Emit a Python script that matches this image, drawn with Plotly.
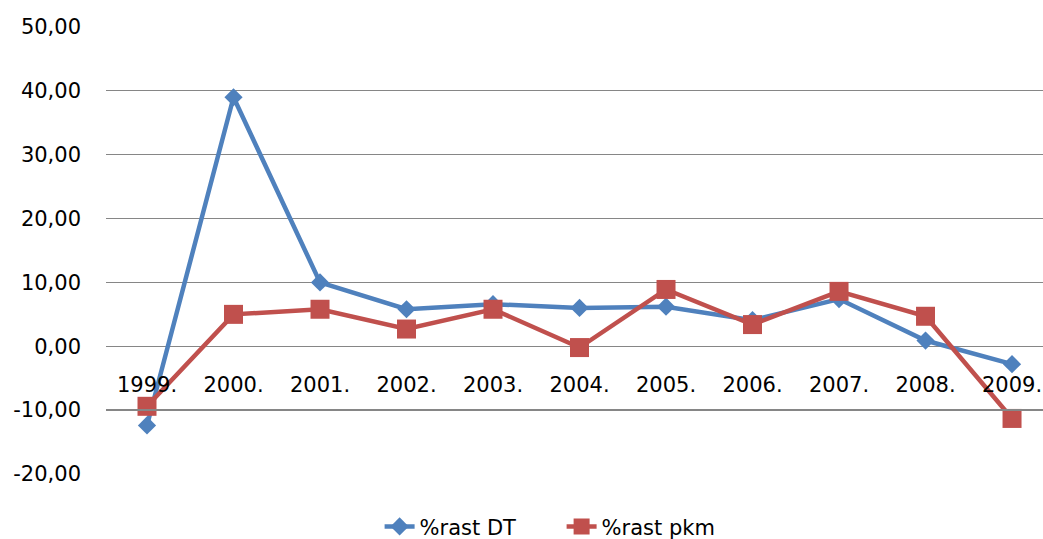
import plotly.graph_objects as go

years = ["1999.", "2000.", "2001.", "2002.", "2003.", "2004.", "2005.", "2006.", "2007.", "2008.", "2009."]
rast_dt = [-12.4, 39.0, 10.0, 5.8, 6.6, 6.0, 6.2, 4.1, 7.4, 0.9, -2.8]
rast_pkm = [-9.4, 5.0, 5.8, 2.7, 5.8, -0.2, 8.9, 3.4, 8.6, 4.7, -11.3]
y_ticks = [-20, -10, 0, 10, 20, 30, 40, 50]
y_tick_text = ["-20,00", "-10,00", "0,00", "10,00", "20,00", "30,00", "40,00", "50,00"]
grid_vals = [0, 10, 20, 30, 40]

BLUE = "#4F81BD"
RED = "#C0504D"
FONT = "DejaVu Sans"

x_idx = list(range(len(years)))

fig = go.Figure()
fig.add_trace(go.Scatter(
    x=x_idx, y=rast_dt, name="%rast DT", mode="lines+markers",
    line=dict(color=BLUE, width=4.5),
    marker=dict(symbol="diamond", size=14, color=BLUE),
))
fig.add_trace(go.Scatter(
    x=x_idx, y=rast_pkm, name="%rast pkm", mode="lines+markers",
    line=dict(color=RED, width=4.5),
    marker=dict(symbol="square", size=19, color=RED),
))
# invisible trace to activate grid axis
fig.add_trace(go.Scatter(x=[0], y=[0], yaxis="y2", showlegend=False,
                         mode="markers", marker=dict(opacity=0), hoverinfo="skip"))

fig.update_layout(
    width=1043, height=539,
    margin=dict(l=106, r=0, t=27, b=65, autoexpand=False),
    paper_bgcolor="white", plot_bgcolor="white",
    font=dict(family=FONT, size=21, color="#000000"),
    showlegend=True,
    legend=dict(orientation="h", x=0.292, xanchor="left", y=-0.118,
                yanchor="middle", font=dict(family=FONT, size=21, color="#000000"),
                entrywidth=137, entrywidthmode="pixels",
                traceorder="normal"),
    xaxis=dict(
        range=[-0.474, 10.358],
        tickvals=x_idx, ticktext=years,
        anchor="free", position=1/7, side="top",
        showline=True, linecolor="#868686", linewidth=1.8,
        showgrid=False, zeroline=False, ticks="", automargin=False,
        ticklabelstandoff=9,
        tickfont=dict(family=FONT, size=21, color="#000000"),
    ),
    yaxis=dict(
        range=[-20, 50], tickvals=y_ticks, ticktext=y_tick_text,
        showgrid=False, zeroline=False, showline=False, ticks="", automargin=False,
        ticklabelstandoff=24,
        tickfont=dict(family=FONT, size=21, color="#000000"),
    ),
    yaxis2=dict(
        range=[-20, 50], overlaying="y", tickvals=grid_vals,
        showgrid=True, gridcolor="#868686", gridwidth=1.2, automargin=False,
        showticklabels=False, zeroline=False, showline=False, ticks="",
        layer="below traces",
    ),
)

fig.write_html(
    "out.html",
    config={"displayModeBar": False},
    post_script="document.body.style.margin='0';document.body.style.overflow='hidden';",
)
